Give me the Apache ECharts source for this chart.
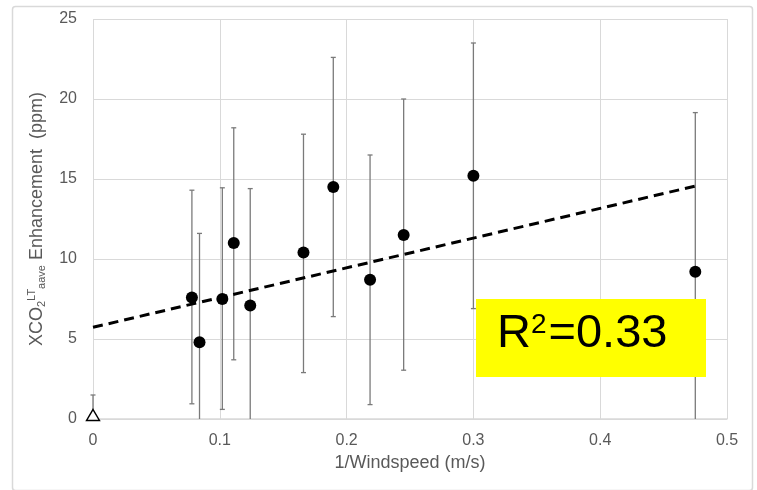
<!DOCTYPE html>
<html>
<head>
<meta charset="utf-8">
<script src="https://cdn.jsdelivr.net/npm/echarts@6/dist/echarts.min.js"></script>
<style>
html,body{margin:0;padding:0;background:#fff;}
#c{width:757px;height:490px;}
</style>
</head>
<body>
<div id="c"></div>
<script>
// ---- data ----
const xVals   = [0.078, 0.084, 0.102, 0.111, 0.124, 0.166, 0.1895, 0.2185, 0.245, 0.300, 0.475];
const yVals   = [7.6, 4.8, 7.5, 11.0, 7.1, 10.4, 14.5, 8.7, 11.5, 15.2, 9.2];
const errHigh = [14.3, 11.6, 14.45, 18.2, 14.4, 17.8, 22.6, 16.5, 20.0, 23.5, 19.15];
const errLow  = [0.95, 0, 0.6, 3.7, 0, 2.9, 6.4, 0.9, 3.05, 6.9, 0];
const refX = [0], refY = [0], refHigh = [1.5], refLow = [0];
const trendX = [0, 0.475], trendY = [5.73, 14.56];
const xTicks = [0, 0.1, 0.2, 0.3, 0.4, 0.5];
const yTicks = [0, 5, 10, 15, 20, 25];
const r2Text = 'R{s|2}=0.33';

const pts = xVals.map((x, i) => [x, yVals[i]]);
const errData = xVals.map((x, i) => [x, errLow[i], errHigh[i]]).concat(refX.map((x, i) => [x, refLow[i], refHigh[i]]));
const trend = trendX.map((x, i) => [x, trendY[i]]);
const ref = refX.map((x, i) => [x, refY[i]]);

const chart = echarts.init(document.getElementById('c'), null, {renderer: 'canvas'});
const font = '"Liberation Sans", Arial, sans-serif';
const gridCol = '#d9d9d9';
const txtCol = '#595959';

chart.setOption({
  animation: false,
  backgroundColor: '#fff',
  grid: {left: 93, right: 30, top: 19, bottom: 71, containLabel: false},
  xAxis: {
    type: 'value', min: 0, max: 0.5, interval: 0.1,
    name: '1/Windspeed (m/s)', nameLocation: 'middle', nameGap: 35,
    nameTextStyle: {color: txtCol, fontSize: 18, fontFamily: font},
    axisLine: {show: true, lineStyle: {color: gridCol, width: 1.5}},
    axisTick: {show: false},
    axisLabel: {color: txtCol, fontSize: 16, fontFamily: font, margin: 14,
      formatter: v => { const t = xTicks.find(k => Math.abs(k - v) < 1e-9); return t === undefined ? '' : String(t); }},
    splitLine: {show: true, lineStyle: {color: gridCol, width: 1}}
  },
  yAxis: {
    type: 'value', min: 0, max: 25, interval: 5,
    name: '{n|XCO}{sub|2}{sup|LT}{sub|aave}{n| Enhancement  (ppm)}',
    nameLocation: 'middle', nameGap: 44,
    nameTextStyle: {
      color: txtCol, fontFamily: font,
      rich: {
        n: {fontSize: 18, color: txtCol, fontFamily: font, lineHeight: 22, verticalAlign: 'middle'},
        sub: {fontSize: 11, color: txtCol, fontFamily: font, lineHeight: 11, verticalAlign: 'bottom', padding: [0, 0, 1, 0]},
        sup: {fontSize: 11, color: txtCol, fontFamily: font, lineHeight: 11, verticalAlign: 'top'}
      }
    },
    axisLine: {show: false},
    axisTick: {show: false},
    axisLabel: {color: txtCol, fontSize: 16, fontFamily: font, margin: 16,
      formatter: v => { const t = yTicks.find(k => Math.abs(k - v) < 1e-9); return t === undefined ? '' : String(t); }},
    splitLine: {show: true, lineStyle: {color: gridCol, width: 1}}
  },
  series: [
    {
      type: 'custom',
      name: 'err',
      z: 2,
      data: errData,
      renderItem: function (params, api) {
        const x = api.value(0);
        const lo = api.coord([x, api.value(1)]);
        const hi = api.coord([x, api.value(2)]);
        const st = {stroke: '#7a7a7a', lineWidth: 1.3};
        const children = [
          {type: 'line', shape: {x1: hi[0], y1: hi[1], x2: lo[0], y2: lo[1]}, style: st},
          {type: 'line', shape: {x1: hi[0] - 2.5, y1: hi[1], x2: hi[0] + 2.5, y2: hi[1]}, style: st}
        ];
        if (api.value(1) > 0) {
          children.push({type: 'line', shape: {x1: lo[0] - 2.5, y1: lo[1], x2: lo[0] + 2.5, y2: lo[1]}, style: st});
        }
        return {type: 'group', children: children};
      }
    },
    {
      type: 'line',
      name: 'trend',
      data: trend,
      z: 3,
      symbol: 'none',
      lineStyle: {color: '#000', width: 3, type: [10, 6]}
    },
    {
      type: 'scatter',
      name: 'pts',
      data: pts,
      z: 4,
      symbol: 'circle',
      symbolSize: 12,
      itemStyle: {color: '#000', opacity: 1}
    },
    {
      type: 'scatter',
      name: 'ref',
      data: ref,
      z: 4,
      symbol: 'triangle',
      symbolSize: [13, 11],
      symbolOffset: [0, -4],
      itemStyle: {color: '#fff', borderColor: '#000', borderWidth: 1.4, opacity: 1}
    }
  ],
  graphic: [
    {type: 'rect', left: 10, top: 4, z: -10, silent: true,
     shape: {width: 740, height: 484, r: 3},
     style: {fill: 'none', stroke: '#d9d9d9', lineWidth: 1.5}},
    {type: 'rect', left: 476, top: 299, z: 100,
     shape: {width: 230, height: 78},
     style: {fill: '#ffff00'}},
    {type: 'text', left: 497, top: 311, z: 101,
     style: {text: r2Text, fill: '#000', font: '47px ' + font,
       rich: {s: {fontSize: 28, fontFamily: font, fill: '#000', verticalAlign: 'top', lineHeight: 47, padding: [0, 2, 14, 0]}}}}
  ]
});
</script>
</body>
</html>
